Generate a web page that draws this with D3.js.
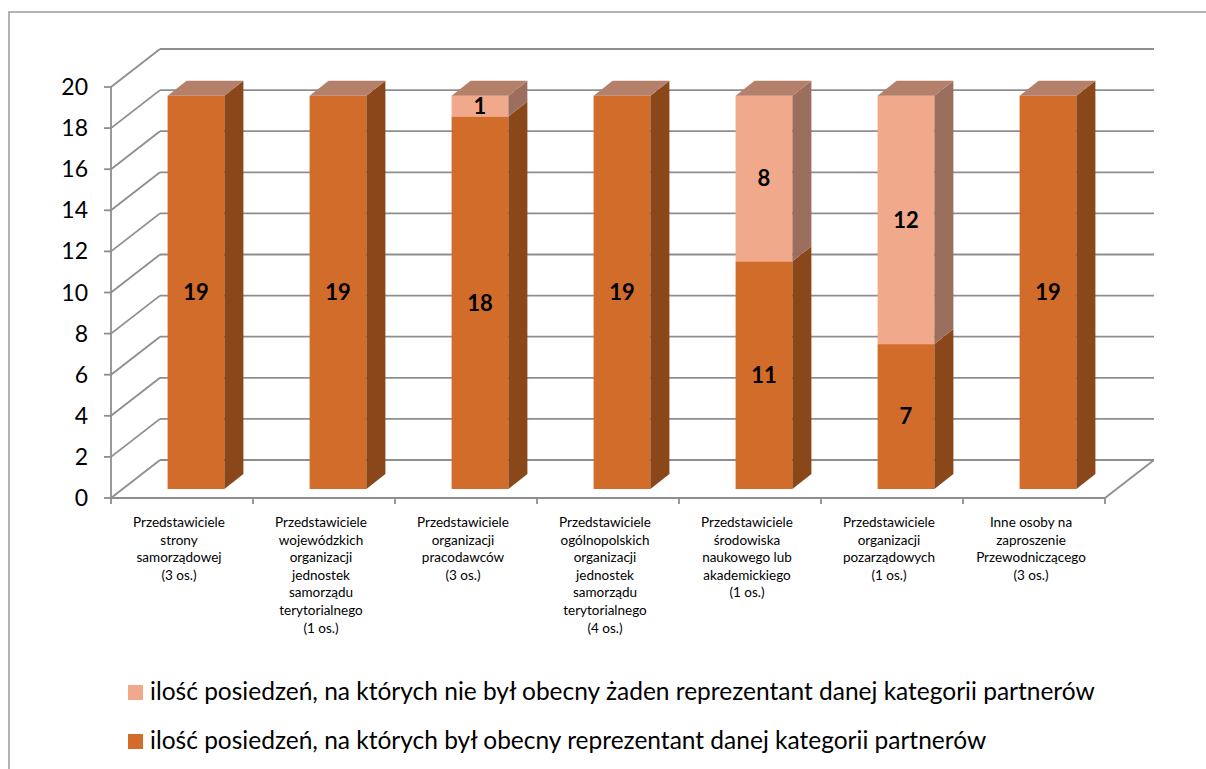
<!DOCTYPE html>
<html>
<head>
<meta charset="utf-8">
<script src="https://cdn.jsdelivr.net/npm/d3@7"></script>
<style>
  body { margin: 0; background: #fff; }
  svg { display: block; }
</style>
</head>
<body>
<div id="chart"></div>
<script>
// categories (label lines)
const categories = [
    ["Przedstawiciele", "strony", "samorządowej", "(3 os.)"],
    ["Przedstawiciele", "wojewódzkich", "organizacji", "jednostek", "samorządu", "terytorialnego", "(1 os.)"],
    ["Przedstawiciele", "organizacji", "pracodawców", "(3 os.)"],
    ["Przedstawiciele", "ogólnopolskich", "organizacji", "jednostek", "samorządu", "terytorialnego", "(4 os.)"],
    ["Przedstawiciele", "środowiska", "naukowego lub", "akademickiego", "(1 os.)"],
    ["Przedstawiciele", "organizacji", "pozarządowych", "(1 os.)"],
    ["Inne osoby na", "zaproszenie", "Przewodniczącego", "(3 os.)"]
];
const present = [19, 19, 18, 19, 11, 7, 19];
const absent = [0, 0, 1, 0, 8, 12, 0];
const seriesNames = [
    "ilość posiedzeń, na których był obecny reprezentant danej kategorii partnerów",
    "ilość posiedzeń, na których nie był obecny żaden reprezentant danej kategorii partnerów"
];
const yTicks = [0, 2, 4, 6, 8, 10, 12, 14, 16, 18, 20];

const W = 1206, H = 769;
const svg = d3.select("#chart").append("svg").attr("width", W).attr("height", H);
svg.append("rect").attr("width", W).attr("height", H).attr("fill", "#fff");

// outer chart border (right/bottom edges fall outside the picture)
svg.append("rect")
    .attr("x", 9).attr("y", 12).attr("width", 1300).attr("height", 900)
    .attr("fill", "none").attr("stroke", "#9a9a9a").attr("stroke-width", 1.5);

const idx = d3.range(categories.length);
const x = d3.scaleBand().domain(idx).range([111, 1105]);
const y = d3.scaleLinear().domain([0, 20]).range([498, 87]);
const depth = {dx: 49, dy: -38};
// bars sit a bit behind the front plane, so their scale is slightly larger
const yBar = d3.scaleLinear().domain([0, 20]).range([489, 75]);
const barOff = {dx: 14, dy: -9};
const barDepth = {dx: 19, dy: -15};

const gridColor = "#8e8e8e";
const grid = svg.append("g").attr("stroke", gridColor).attr("stroke-width", 1.8).attr("fill", "none");

// back wall gridlines
grid.selectAll(".back").data(yTicks).enter().append("line")
    .attr("x1", 111 + depth.dx).attr("x2", 1105 + depth.dx)
    .attr("y1", d => y(d) + depth.dy).attr("y2", d => y(d) + depth.dy);
// side wall gridlines
grid.selectAll(".side").data(yTicks).enter().append("line")
    .attr("x1", 111).attr("x2", 111 + depth.dx)
    .attr("y1", d => y(d)).attr("y2", d => y(d) + depth.dy);
// floor
grid.append("line").attr("x1", 111).attr("x2", 1105).attr("y1", y(0)).attr("y2", y(0));
grid.append("line").attr("x1", 1105).attr("x2", 1105 + depth.dx).attr("y1", y(0)).attr("y2", y(0) + depth.dy);
// vertical axis + ticks
grid.append("line").attr("x1", 111).attr("x2", 111).attr("y1", y(20)).attr("y2", y(0));
grid.selectAll(".yt").data(yTicks).enter().append("line")
    .attr("x1", 104).attr("x2", 111).attr("y1", d => y(d)).attr("y2", d => y(d));
grid.selectAll(".xt").data(d3.range(categories.length + 1)).enter().append("line")
    .attr("x1", d => 111 + d * x.bandwidth()).attr("x2", d => 111 + d * x.bandwidth())
    .attr("y1", y(0)).attr("y2", y(0) + 6);

svg.selectAll(".ylab").data(yTicks).enter().append("text")
    .attr("x", 88).attr("y", d => y(d))
    .attr("dy", "0.35em")
    .attr("text-anchor", "end")
    .attr("font-family", "Lato, 'Open Sans', sans-serif")
    .attr("font-size", 23)
    .attr("fill", "#000")
    .text(d => d);

// stacked 3D bars
const colors = [
    {front: "#d26c2b", side: "#8a4719", top: "#b5806a"},
    {front: "#f0a98b", side: "#9c6e5e", top: "#b5806a"}
];
const segs = [];
idx.forEach(i => {
    const vals = [present[i], absent[i]];
    let base = 0;
    vals.forEach((v, s) => {
        if (v > 0) segs.push({i: i, s: s, v: v, y0: base, y1: base + v, top: base + v === present[i] + absent[i]});
        base += v;
    });
});

const bw = x.bandwidth() * 0.4;
const bx = i => x(i) + x.bandwidth() * 0.3 + barOff.dx;

const bars = svg.append("g");
segs.forEach(d => {
    const x0 = bx(d.i), x1 = x0 + bw;
    const yt = yBar(d.y1), yb = yBar(d.y0);
    const c = colors[d.s];
    bars.append("rect").attr("x", x0).attr("y", yt).attr("width", bw).attr("height", yb - yt).attr("fill", c.front);
    bars.append("polygon")
        .attr("points", [[x1, yt], [x1 + barDepth.dx, yt + barDepth.dy], [x1 + barDepth.dx, yb + barDepth.dy], [x1, yb]].join(" "))
        .attr("fill", c.side);
    if (d.top) {
        bars.append("polygon")
            .attr("points", [[x0, yt], [x1, yt], [x1 + barDepth.dx, yt + barDepth.dy], [x0 + barDepth.dx, yt + barDepth.dy]].join(" "))
            .attr("fill", c.top);
    }
});

svg.selectAll(".vlab").data(segs).enter().append("text")
    .attr("x", d => bx(d.i) + bw / 2)
    .attr("y", d => (yBar(d.y0) + yBar(d.y1)) / 2)
    .attr("dy", "0.36em")
    .attr("text-anchor", "middle")
    .attr("font-family", "Lato, 'Open Sans', sans-serif")
    .attr("font-weight", "bold")
    .attr("font-size", 22)
    .attr("fill", "#000")
    .text(d => d.v);

// category labels
const catG = svg.selectAll(".cat").data(idx).enter().append("text")
    .attr("text-anchor", "middle")
    .attr("font-family", "Lato, 'Open Sans', sans-serif")
    .attr("font-size", 13.5)
    .attr("fill", "#000");
catG.selectAll("tspan").data(i => categories[i].map(t => ({i: i, t: t}))).enter().append("tspan")
    .attr("x", d => x(d.i) + x.bandwidth() / 2 - 3)
    .attr("y", (d, k) => 527 + k * 17.6)
    .text(d => d.t);

// legend
const legend = [
    {name: seriesNames[1], color: colors[1].front},
    {name: seriesNames[0], color: colors[0].front}
];
const lg = svg.selectAll(".lg").data(legend).enter().append("g")
    .attr("transform", (d, k) => `translate(128, ${685 + k * 49})`);
lg.append("rect").attr("width", 15).attr("height", 15).attr("fill", d => d.color);
lg.append("text")
    .attr("x", 22).attr("y", 15)
    .attr("font-family", "Lato, 'Open Sans', sans-serif")
    .attr("font-size", 24.5)
    .attr("fill", "#000")
    .text(d => d.name);
</script>
</body>
</html>
